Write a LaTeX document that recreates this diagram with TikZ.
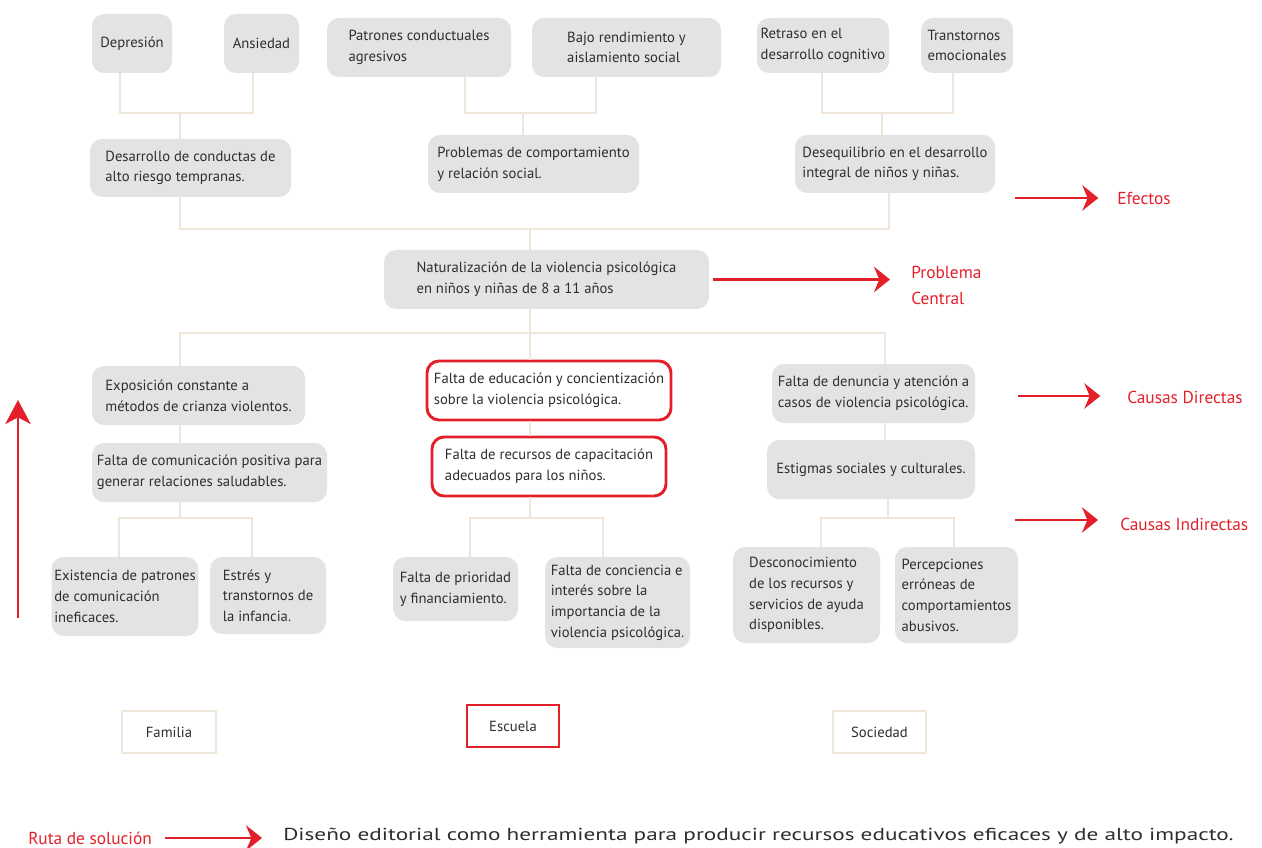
\documentclass[tikz,border=0pt]{standalone}
\usepackage{fontspec}
\setmainfont{PT Sans}
\usepackage{graphicx}
\usepackage{tikz}
\usepackage{xcolor}
\usetikzlibrary{arrows.meta, positioning}
\definecolor{Ruta_Rojo}{HTML}{E3202A}
\definecolor{Ruta_Gris}{HTML}{E3E3E3}
\definecolor{Ruta_Beige}{HTML}{EFE5D9}
\definecolor{Ruta_Texto}{HTML}{2E2E2E}

\begin{document}
\begin{tikzpicture}[x=0.75pt, y=-0.75pt,
    caja/.style={fill=Ruta_Gris, rounded corners=9pt, align=left, inner sep=2pt, text=Ruta_Texto, font=\fontsize{11}{15.5}\selectfont},
    cajaroja/.style={caja, fill=white, draw=Ruta_Rojo, line width=2.2pt},
    marco/.style={draw=Ruta_Beige, line width=2.2pt, fill=white, text=Ruta_Texto, minimum height=31.5pt, font=\fontsize{11}{15}\selectfont},
    enlace/.style={draw=Ruta_Beige, line width=2.2pt},
    flecha/.style={draw=Ruta_Rojo, line width=2.2pt, -{Stealth[length=12pt, width=19pt, inset=4pt]}},
    etiqueta/.style={anchor=west, inner sep=0pt, align=left, text=Ruta_Rojo, font=\fontsize{13}{19.5}\selectfont}]
    \useasboundingbox (0,0) rectangle (1262,848);

    % Efectos: primer nivel
    \node[caja, minimum width=60pt, minimum height=44.25pt] (dep) at (132,43.5) {Depresión};
    \node[caja, minimum width=56.25pt, minimum height=44.25pt] (ans) at (261.5,43.5) {Ansiedad};
    \node[caja, minimum width=138pt, minimum height=44.25pt] (pat) at (419,47.5) {Patrones conductuales\\agresivos};
    \node[caja, minimum width=141.75pt, minimum height=44.25pt] (baj) at (626.5,47.5) {Bajo rendimiento y\\aislamiento social};
    \node[caja, minimum width=99pt, minimum height=41.25pt] (ret) at (823,45.5) {Retraso en el\\desarrollo cognitivo};
    \node[caja, minimum width=69pt, minimum height=41.25pt] (tra) at (967,45.5) {Transtornos\\emocionales};

    % Efectos: segundo nivel
    \node[caja, minimum width=150.75pt, minimum height=43.5pt] (ef1) at (190.5,168) {Desarrollo de conductas de\\alto riesgo tempranas.};
    \node[caja, minimum width=158.25pt, minimum height=43.5pt] (ef2) at (533.5,164) {Problemas de comportamiento\\y relación social.};
    \node[caja, minimum width=150pt, minimum height=43.5pt] (ef3) at (895,164) {Desequilibrio en el desarrollo\\integral de niños y niñas.};

    % Problema central
    \node[caja, minimum width=243.75pt, minimum height=44.25pt] (prob) at (546.5,279.5) {Naturalización de la violencia psicológica\\en niños y niñas de 8 a 11 años};

    % Causas directas
    \node[caja, minimum width=159.75pt, minimum height=44.25pt] (cd1) at (198.5,395.5) {Exposición constante a\\métodos de crianza violentos.};
    \node[cajaroja, minimum width=183pt, minimum height=44.25pt] (cd2) at (549,390.5) {Falta de educación y concientización\\sobre la violencia psicológica.};
    \node[caja, minimum width=152.25pt, minimum height=44.25pt] (cd3) at (873.5,393.5) {Falta de denuncia y atención a\\casos de violencia psicológica.};

    % Causas indirectas
    \node[caja, minimum width=176.25pt, minimum height=44.25pt] (ci1) at (209.5,472.5) {Falta de comunicación positiva para\\generar relaciones saludables.};
    \node[cajaroja, minimum width=175.5pt, minimum height=44.25pt] (ci2) at (549,466.5) {Falta de recursos de capacitación\\adecuados para los niños.};
    \node[caja, minimum width=156pt, minimum height=44.25pt] (ci3) at (871,469.5) {Estigmas sociales y culturales.};

    % Causas de tercer nivel
    \node[caja, minimum width=109.5pt, minimum height=59.25pt] (ca1) at (125,596.5) {Existencia de patrones\\de comunicación\\ineficaces.};
    \node[caja, minimum width=87pt, minimum height=57.75pt] (ca2) at (268,595.5) {Estrés y\\transtornos de\\la infancia.};
    \node[caja, minimum width=93.75pt, minimum height=48pt] (ca3) at (455.5,589) {Falta de prioridad\\y financiamiento.};
    \node[caja, minimum width=108.75pt, minimum height=68.25pt] (ca4) at (617.5,602.5) {Falta de conciencia e\\interés sobre la\\importancia de la\\violencia psicológica.};
    \node[caja, minimum width=110.25pt, minimum height=72pt] (ca5) at (806.5,595) {Desconocimiento\\de los recursos y\\servicios de ayuda\\disponibles.};
    \node[caja, minimum width=92.25pt, minimum height=72pt] (ca6) at (956.5,595) {Percepciones\\erróneas de\\comportamientos\\abusivos.};

    % Ambitos
    \node[marco, minimum width=70.5pt] (fam) at (169,732) {Familia};
    \node[marco, draw=Ruta_Rojo, minimum width=69pt] (esc) at (513,726) {Escuela};
    \node[marco, minimum width=69.75pt] (soc) at (879.5,732) {Sociedad};

    % Uniones de efectos
    \coordinate (l1) at (120,113); \coordinate (r1) at (253,113); \coordinate (j1) at (180,113);
    \draw[enlace] (l1 |- dep.south) -- (l1) -- (r1) -- (r1 |- ans.south);
    \draw[enlace] (j1) -- (j1 |- ef1.north);
    \coordinate (l2) at (465,113); \coordinate (r2) at (596,113); \coordinate (j2) at (523,113);
    \draw[enlace] (l2 |- pat.south) -- (l2) -- (r2) -- (r2 |- baj.south);
    \draw[enlace] (j2) -- (j2 |- ef2.north);
    \coordinate (l3) at (822,113); \coordinate (r3) at (953,113); \coordinate (j3) at (882,113);
    \draw[enlace] (l3 |- ret.south) -- (l3) -- (r3) -- (r3 |- tra.south);
    \draw[enlace] (j3) -- (j3 |- ef3.north);
    \coordinate (b1) at (180,229); \coordinate (b3) at (889,229); \coordinate (bc) at (530,229);
    \draw[enlace] (b1 |- ef1.south) -- (b1) -- (b3) -- (b3 |- ef3.south);
    \draw[enlace] (bc) -- (bc |- prob.north);

    % Uniones de causas
    \coordinate (c1) at (180,333); \coordinate (c3) at (885,333); \coordinate (cc) at (530,333);
    \draw[enlace] (cc |- prob.south) -- (cc);
    \draw[enlace] (c1 |- cd1.north) -- (c1) -- (c3) -- (c3 |- cd3.north);
    \draw[enlace] (cc) -- (cc |- cd2.north);
    \draw[enlace] (c1 |- cd1.south) -- (c1 |- ci1.north);
    \draw[enlace] (cc |- cd2.south) -- (cc |- ci2.north);
    \draw[enlace] (c3 |- cd3.south) -- (c3 |- ci3.north);
    \coordinate (k1) at (180,518); \coordinate (kl1) at (119,518); \coordinate (kr1) at (252,518);
    \draw[enlace] (k1 |- ci1.south) -- (k1);
    \draw[enlace] (kl1 |- ca1.north) -- (kl1) -- (kr1) -- (kr1 |- ca2.north);
    \coordinate (k2) at (530,518); \coordinate (kl2) at (470,518); \coordinate (kr2) at (603,518);
    \draw[enlace] (k2 |- ci2.south) -- (k2);
    \draw[enlace] (kl2 |- ca3.north) -- (kl2) -- (kr2) -- (kr2 |- ca4.north);
    \coordinate (k3) at (888,518); \coordinate (kl3) at (821,518); \coordinate (kr3) at (954,518);
    \draw[enlace] (k3 |- ci3.south) -- (k3);
    \draw[enlace] (kl3 |- ca5.north) -- (kl3) -- (kr3) -- (kr3 |- ca6.north);

    % Etiquetas y flechas rojas
    \node[etiqueta] (lEfe) at (1117,198) {Efectos};
    \node[etiqueta] (lPro) at (911,285) {Problema\\Central};
    \node[etiqueta] (lCD) at (1127,397) {Causas Directas};
    \node[etiqueta] (lCI) at (1120,524) {Causas Indirectas};
    \coordinate (aEfe) at (1015,198);
    \coordinate (aCD) at (1018,396);
    \coordinate (aCI) at (1015,520);
    \draw[flecha, shorten >=14pt] (aEfe) -- (aEfe -| lEfe.west);
    \draw[flecha, shorten <=3pt, shorten >=15.75pt] (prob.east) -- (prob.east -| lPro.west);
    \draw[flecha, shorten >=20pt] (aCD) -- (aCD -| lCD.west);
    \draw[flecha, shorten >=16.5pt] (aCI) -- (aCI -| lCI.west);
    \coordinate (sube0) at (18,618);
    \coordinate (sube1) at (18,400);
    \draw[flecha, -{Stealth[length=18pt, width=19pt, inset=5pt]}] (sube0) -- (sube1);

    % Ruta de solucion
    \node[etiqueta] (ruta) at (28,838) {Ruta de solución};
    \node[anchor=west, inner sep=0pt, text=Ruta_Texto, font=\fontsize{13}{15}\selectfont] (sol) at (283,836) {\scalebox{1.34}[1]{Diseño editorial como herramienta para producir recursos educativos eficaces y de alto impacto.}};
    \draw[flecha, shorten <=9.75pt, shorten >=15.75pt] (ruta.east) -- (ruta.east -| sol.west);
\end{tikzpicture}
\end{document}
